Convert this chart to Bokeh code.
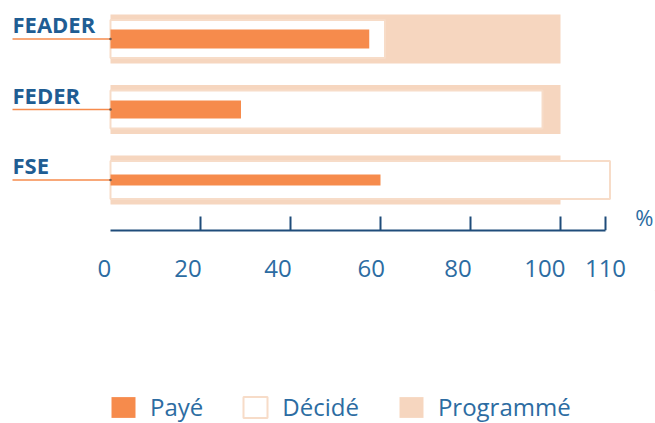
from bokeh.plotting import figure
from bokeh.layouts import column
from bokeh.models import Range1d, FixedTicker, LinearAxis, Legend, LegendItem, Label, ColumnDataSource
from bokeh.core.properties import value
from bokeh.embed import file_html
from bokeh.resources import INLINE

# ---------------- data ----------------
categories = ["FEADER", "FEDER", "FSE"]
paye = [57.5, 29, 60]          # Payé (%)
decide = [61, 96, 111]         # Décidé (%)
programme = [100, 100, 100]    # Programmé (%)
tick_values = [0, 20, 40, 60, 80, 100, 110]
tick_labels = ["0", "20", "40", "60", "80", "100", "110"]
legend_labels = ["Payé", "Décidé", "Programmé"]
unit_label = "%"

# ---------------- layout / style ----------------
W = 655
H1, H2 = 290, 133       # chart + legend strip
X0_PX = 110             # figure x pixel of value 0
PX_PER_UNIT = 4.5
FRAME_H = 230           # frame ends at the axis line
ROW0_PX = 38.5          # figure y of first row centre
ROW_STEP = 70.5
PROG_H_PX = 49
DEC_H_PX = 38
PAYE_H_PX = [19, 18, 11]
LABEL_X_PX = 12
LABEL_LIFT_PX = 15
# tick labels sit a little left of their ticks in the original (non-breaking pad)
TICK_LABEL_PAD = [2, 4, 4, 3, 4, 5, 0]

ORANGE = "#F68B4C"
PEACH = "#F6D6BF"
PEACH_LINE = "#F7DCC8"
LABEL_BLUE = "#1F5D93"
TICK_BLUE = "#2C6CA2"
AXIS_BLUE = "#1F4C7A"
FONT = "Open Sans"

rows = list(range(len(categories)))
px = lambda n: n / ROW_STEP

x_start = -X0_PX / PX_PER_UNIT
x_end = (W - X0_PX) / PX_PER_UNIT
y_bottom = (FRAME_H - ROW0_PX) / ROW_STEP
y_top = -ROW0_PX / ROW_STEP

p = figure(width=W, height=H1,
           x_range=Range1d(x_start, x_end), y_range=Range1d(y_bottom, y_top),
           output_backend="svg", toolbar_location=None,
           x_axis_location=None, y_axis_location=None,
           min_border_left=0, min_border_right=0, min_border_top=0,
           min_border_bottom=H1 - FRAME_H,
           outline_line_color=None, background_fill_color="white",
           border_fill_color="white")
for g in p.grid:
    g.visible = False

src = ColumnDataSource(dict(
    y=rows, cat=categories, paye=paye, decide=decide, programme=programme,
    paye_h=[px(h) for h in PAYE_H_PX],
    label_y=[r - px(LABEL_LIFT_PX) for r in rows],
    zero=[0] * len(rows),
))

r_prog = p.hbar(y="y", left=0, right="programme", height=px(PROG_H_PX), source=src,
                fill_color=PEACH, line_color=None)
r_dec = p.hbar(y="y", left=0, right="decide", height=px(DEC_H_PX), source=src,
               fill_color="white", line_color=PEACH_LINE, line_width=2)
r_paye = p.hbar(y="y", left=0, right="paye", height="paye_h", source=src,
                fill_color=ORANGE, line_color=None)

# leader lines + labels
label_x = (LABEL_X_PX - X0_PX) / PX_PER_UNIT
p.segment(x0=label_x, y0="y", x1=0, y1="y", source=src,
          line_color=ORANGE, line_width=1.5)
p.scatter(x="zero", y="y", source=src, size=2.5, color="#6a5a52", line_color=None)
p.text(x=label_x, y="label_y", text="cat", source=src,
       text_font=value(FONT), text_font_style="bold", text_font_size="22px",
       text_color=LABEL_BLUE, text_baseline="alphabetic")

# tick marks (pointing up, no tick at 0)
tick_src = ColumnDataSource(dict(x=[t for t in tick_values if t != 0]))
p.segment(x0="x", y0=y_bottom, x1="x", y1=y_bottom - px(14), source=tick_src,
          line_color=AXIS_BLUE, line_width=2)

ax = LinearAxis(ticker=FixedTicker(ticks=tick_values), bounds=(0, 110),
                major_label_overrides={v: l + "\u00a0" * n
                                       for v, l, n in zip(tick_values, tick_labels, TICK_LABEL_PAD)})
ax.axis_line_color = AXIS_BLUE
ax.axis_line_width = 2
ax.major_tick_in = 0
ax.major_tick_out = 0
ax.minor_tick_in = 0
ax.minor_tick_out = 0
ax.major_label_standoff = 20
ax.major_label_text_font = FONT
ax.major_label_text_font_size = "24px"
ax.major_label_text_color = TICK_BLUE
p.add_layout(ax, "below")

p.add_layout(Label(x=(W - 2 - X0_PX) / PX_PER_UNIT, y=(216 - ROW0_PX) / ROW_STEP,
                   text=unit_label, text_align="right", text_baseline="alphabetic",
                   text_font=FONT, text_font_size="22px", text_color=TICK_BLUE))

# ---------------- legend strip ----------------
p2 = figure(width=W, height=H2, x_range=Range1d(0, 1), y_range=Range1d(0, 1),
            output_backend="svg", toolbar_location=None,
            x_axis_location=None, y_axis_location=None,
            min_border_left=0, min_border_right=0, min_border_top=0, min_border_bottom=0,
            outline_line_color=None, background_fill_color="white",
            border_fill_color="white")
for g in p2.grid:
    g.visible = False
# legend-only renderers, parked well outside the visible ranges
swatch = ColumnDataSource(dict(y=[50], l=[50], r=[51]))
l_paye = p2.hbar(y="y", left="l", right="r", height=0.1, source=swatch,
                 fill_color=ORANGE, line_color=None)
l_dec = p2.hbar(y="y", left="l", right="r", height=0.1, source=swatch,
                fill_color="white", line_color=PEACH_LINE, line_width=2)
l_prog = p2.hbar(y="y", left="l", right="r", height=0.1, source=swatch,
                 fill_color=PEACH, line_color=None)

legend = Legend(items=[LegendItem(label=legend_labels[0], renderers=[l_paye]),
                       LegendItem(label=legend_labels[1], renderers=[l_dec]),
                       LegendItem(label=legend_labels[2], renderers=[l_prog])],
                orientation="horizontal", location=(108, 0),
                glyph_width=30, glyph_height=26, label_standoff=12, spacing=37,
                padding=0, margin=0, border_line_color=None,
                background_fill_alpha=0,
                label_text_font=FONT, label_text_font_size="24px",
                label_text_color=TICK_BLUE)
p2.add_layout(legend)

layout = column(p, p2, spacing=0)
open("out.html", "w").write(file_html(layout, INLINE))
